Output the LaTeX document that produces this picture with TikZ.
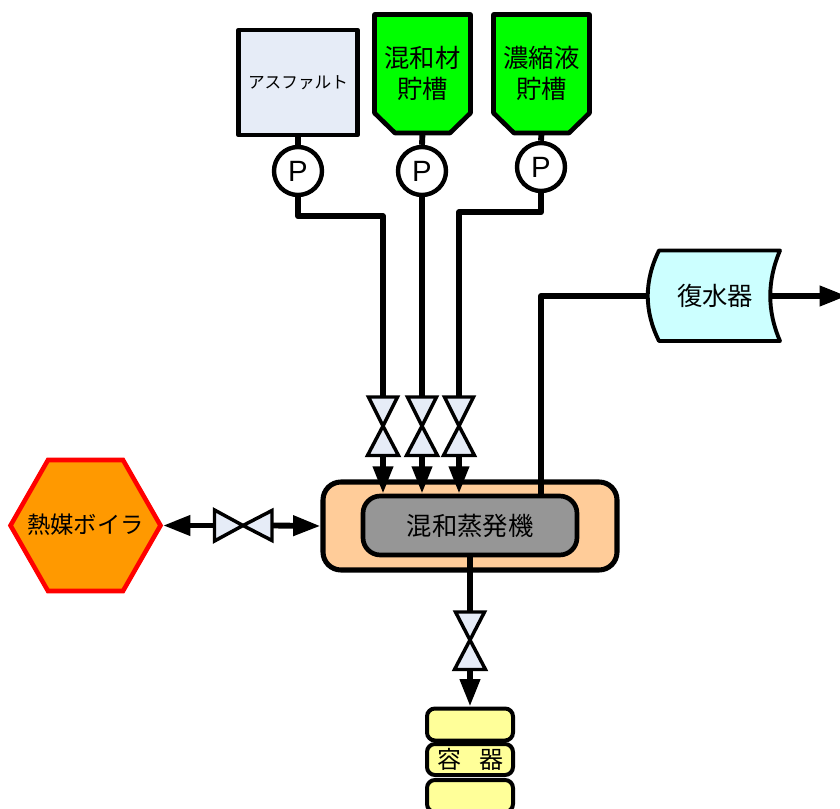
\documentclass[tikz,border=0pt]{standalone}
\usepackage{fontspec}
\setmainfont{Noto Sans CJK JP}
\newfontfamily\latinfont{Liberation Sans}
\usetikzlibrary{arrows.meta,calc}
\definecolor{paleblue}{HTML}{E6ECF7}
\definecolor{tankgreen}{HTML}{00FF00}
\definecolor{mixorange}{HTML}{FFCC99}
\definecolor{mixgray}{HTML}{969696}
\definecolor{condcyan}{HTML}{CCFFFF}
\definecolor{boilerorange}{HTML}{FF9900}
\definecolor{vesselyellow}{HTML}{FFFF99}
\newcommand{\fs}[1]{\fontsize{#1}{#1}\selectfont}
\tikzset{
  outline/.style={draw=black,line width=3.3pt,line join=round},
  pumpnode/.style={circle,outline,fill=white,minimum size=36pt,inner sep=0pt,font=\latinfont\fontsize{22}{22}\selectfont},
  labelbig/.style={inner sep=0pt,outer sep=0pt,align=center,font=\fontsize{19}{23.25}\selectfont},
  tankbox/.style={labelbig,minimum width=71.25pt,minimum height=90pt},
  valveshape/.style={draw=black,line width=2.6pt,fill=paleblue,miter limit=10},
  pipe/.style={draw=black,line width=4.4pt,line join=round},
  flow/.style={pipe,-{Triangle[width=14.5pt,length=20.5pt]}},
  vesselbox/.style={rectangle,rounded corners=6pt,draw=black,line width=3pt,fill=vesselyellow,minimum width=64.5pt,inner sep=0pt},
}
% vertical valve: name, x, top y, centre y, bottom y
\newcommand{\vvalve}[5]{%
  \filldraw[valveshape] (#2-14.5,#3) -- (#2+14.5,#3) -- (#2,#4) -- cycle;
  \filldraw[valveshape] (#2-15.5,#5) -- (#2+15.5,#5) -- (#2,#4) -- cycle;
  \coordinate (#1-in) at (#2,#3);
  \coordinate (#1-out) at (#2,#5);
}
\begin{document}
\begin{tikzpicture}[x=0.75pt,y=-0.75pt]
\useasboundingbox (0,0) rectangle (840,809);
\clip (0,0) rectangle (840,809);

% tanks
\node[rectangle,outline,fill=paleblue,minimum width=89.25pt,minimum height=78.75pt,inner sep=0pt,font=\fs{12.5}] (asph) at (298,82.5) {アスファルト};

\filldraw[outline,fill=tankgreen,line width=3.5pt] (374.5,14.5) -- (470.5,14.5) -- (470.5,113) -- (450,133) -- (395,133) -- (374.5,113) -- cycle;
\node[tankbox] (mixtank) at (422.5,73) {混和材\\貯槽};
\filldraw[outline,fill=tankgreen,line width=3.5pt] (493.5,14.5) -- (589.5,14.5) -- (589.5,113) -- (569,133) -- (514,133) -- (493.5,113) -- cycle;
\node[tankbox] (conctank) at (541.5,73) {濃縮液\\貯槽};

% pumps
\node[pumpnode] (p1) at (298,171) {P};
\node[pumpnode] (p2) at (422,171) {P};
\node[pumpnode] (p3) at (541,167) {P};

% valves
\vvalve{v1}{383}{397}{426}{455.5}
\vvalve{v2}{422}{397}{426}{455.5}
\vvalve{v3}{459}{397}{426}{455.5}
\vvalve{v4}{470}{612}{640}{669.5}
\filldraw[valveshape] (214.5,510) -- (214.5,541) -- (243,525.5) -- cycle;
\filldraw[valveshape] (272,510.5) -- (272,540.5) -- (243,525.5) -- cycle;
\coordinate (v5-l) at (214,525.5);
\coordinate (v5-r) at (272,525.5);

% evaporator
\node[rectangle,draw=black,line width=3.8pt,fill=mixorange,rounded corners=13.5pt,minimum width=220.5pt,minimum height=66pt,inner sep=0pt] (mixouter) at (470,526) {};
\node[rectangle,draw=black,line width=3.5pt,fill=mixgray,rounded corners=13pt,minimum width=160.5pt,minimum height=44.25pt,inner sep=0pt,font=\fs{19}] (mixinner) at (470,525.5) {混和蒸発機};
\coordinate (mixout) at (541,496);

% boiler
\filldraw[draw=red,line width=3.4pt,fill=boilerorange,miter limit=10] (10.5,525.5) -- (48,460) -- (123,460) -- (160.5,525.5) -- (123,591) -- (48,591) -- cycle;
\node[inner sep=0pt,font=\fs{17.5}] (boiler) at (85.5,525) {熱媒ボイラ};
\coordinate (boiler-e) at (163,525.5);

% condenser
\filldraw[draw=black,line width=2.9pt,fill=condcyan,line join=round] (659,250.5) -- (780,250.5) .. controls (767,281) and (767,311) .. (780,341) -- (659,341) .. controls (644,311) and (644,281) .. (659,250.5) -- cycle;
\node[inner sep=0pt,font=\fs{19}] (cond) at (715,295.5) {復水器};
\coordinate (cond-w) at (648,296);
\coordinate (cond-e) at (771,296);
\coordinate (outlet) at (847,296);

% vessel
\node[vesselbox,minimum height=23.25pt,font=\fs{18}] (vmid) at (470,759.5) {容\hspace{0.75em}器};
\node[vesselbox,minimum height=24pt] (vtop) at (470,724.5) {};
\node[vesselbox,minimum height=24pt] (vbot) at (470,796) {};

% connectors
\draw[pipe] (asph.south) -- (p1.north);
\draw[pipe] (mixtank.south) -- (p2.north);
\draw[pipe] (conctank.south) -- (p3.north);
\draw[pipe] (p1.south) -- ++(0,19) -| (v1-in);
\draw[pipe] (p2.south) -- (v2-in);
\draw[pipe] (p3.south) -- ++(0,19) -| (v3-in);
\draw[flow] (v1-out) -- (v1-out |- mixinner.north);
\draw[flow] (v2-out) -- (v2-out |- mixinner.north);
\draw[flow] (v3-out) -- (v3-out |- mixinner.north);
\draw[pipe] (mixout) |- (cond-w);
\draw[flow] (cond-e) -- (outlet);
\draw[pipe] (mixinner.south) -- (v4-in);
\draw[flow] (v4-out) -- (vtop.north);
\draw[flow] (v5-l) -- (boiler-e);
\draw[flow] (v5-r) -- (mixouter.west);
\end{tikzpicture}
\end{document}
